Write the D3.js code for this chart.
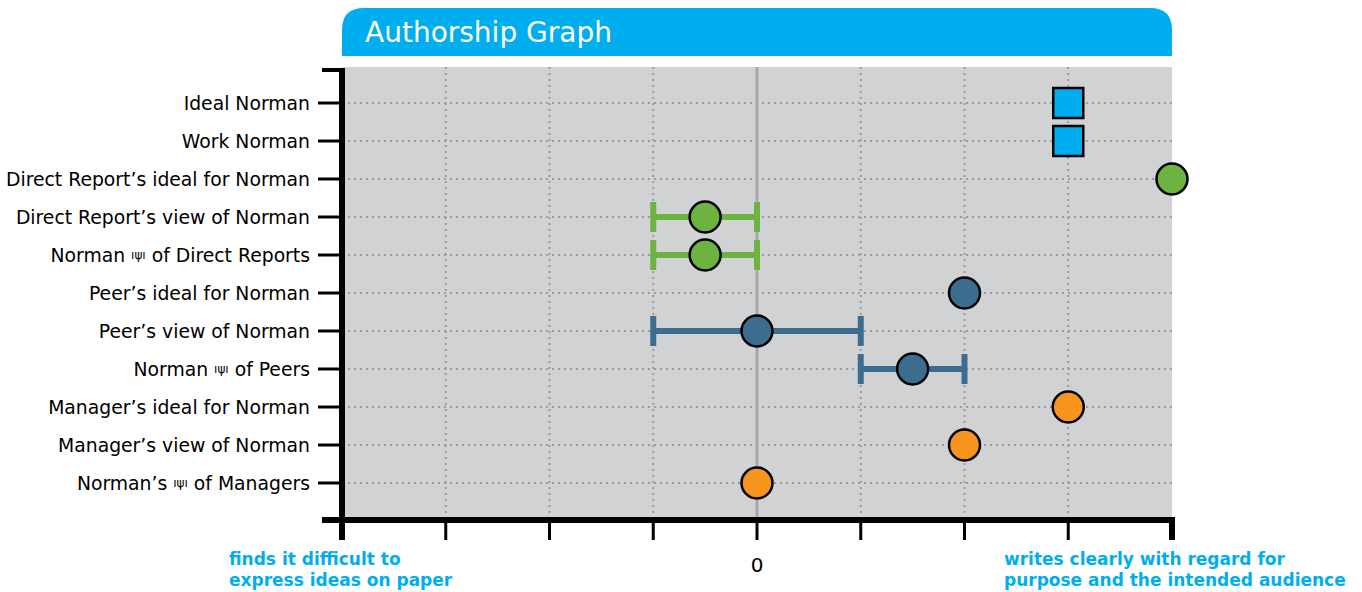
<!DOCTYPE html>
<html>
<head>
<meta charset="utf-8">
<script src="https://cdn.jsdelivr.net/npm/d3@7"></script>
<style>
  body { margin: 0; background: #fff; }
  text { font-family: "DejaVu Sans", Verdana, sans-serif; }
</style>
</head>
<body>
<div id="chart"></div>
<script>
// rows top to bottom
const labels = [
  ["Ideal Norman"],
  ["Work Norman"],
  ["Direct Report\u2019s ideal for Norman"],
  ["Direct Report\u2019s view of Norman"],
  ["Norman ", "\u0131\u03c8\u0131", " of Direct Reports"],
  ["Peer\u2019s ideal for Norman"],
  ["Peer\u2019s view of Norman"],
  ["Norman ", "\u0131\u03c8\u0131", " of Peers"],
  ["Manager\u2019s ideal for Norman"],
  ["Manager\u2019s view of Norman"],
  ["Norman\u2019s ", "\u0131\u03c8\u0131", " of Managers"]
];
const values = [3, 3, 4, -0.5, -0.5, 2, 0, 1.5, 3, 2, 0];
const lows   = [null, null, null, -1, -1, null, -1, 1, null, null, null];
const highs  = [null, null, null, 0, 0, null, 1, 2, null, null, null];
const groups = ["self", "self", "direct", "direct", "direct", "peer", "peer", "peer", "manager", "manager", "manager"];
const xTicks = [-4, -3, -2, -1, 0, 1, 2, 3, 4];

const colors = { self: "#00aeef", direct: "#6cb33f", peer: "#3c6d8f", manager: "#f7941d" };

const W = 1362, H = 592;
const svg = d3.select("#chart").append("svg").attr("width", W).attr("height", H);

const x = d3.scaleLinear().domain([-4, 4]).range([342, 1172]);
const y = d3.scalePoint().domain(d3.range(labels.length)).range([103, 483]);

// title bar
const tb = { x0: 342, x1: 1172, y0: 8, y1: 56, r: 22 };
svg.append("path")
  .attr("d", `M${tb.x0},${tb.y1} L${tb.x0},${tb.y0 + tb.r} Q${tb.x0},${tb.y0} ${tb.x0 + tb.r},${tb.y0}
              L${tb.x1 - tb.r},${tb.y0} Q${tb.x1},${tb.y0} ${tb.x1},${tb.y0 + tb.r} L${tb.x1},${tb.y1} Z`)
  .attr("fill", "#00aeef");
svg.append("text").attr("x", 365).attr("y", 42)
  .attr("fill", "#fff").style("font-size", "28px").text("Authorship Graph");

// plot background
svg.append("rect").attr("x", 342).attr("y", 67).attr("width", 830).attr("height", 453).attr("fill", "#d1d2d4");

// grid
svg.append("g").selectAll("line").data(xTicks.filter(d => d !== 0 && d !== -4 && d !== 4)).join("line")
  .attr("x1", d => x(d)).attr("x2", d => x(d)).attr("y1", 67).attr("y2", 520)
  .attr("stroke", "#9a9b9d").attr("stroke-width", 2).attr("stroke-dasharray", "2,4");
svg.append("g").selectAll("line").data(y.domain()).join("line")
  .attr("x1", 342).attr("x2", 1172).attr("y1", d => y(d)).attr("y2", d => y(d))
  .attr("stroke", "#9a9b9d").attr("stroke-width", 2).attr("stroke-dasharray", "2,4");
svg.append("line").attr("x1", x(0)).attr("x2", x(0)).attr("y1", 67).attr("y2", 520)
  .attr("stroke", "#a7a8aa").attr("stroke-width", 3);

// error bars
const eb = svg.append("g");
values.forEach((v, i) => {
  if (lows[i] === null) return;
  const c = colors[groups[i]];
  eb.append("line").attr("x1", x(lows[i])).attr("x2", x(highs[i])).attr("y1", y(i)).attr("y2", y(i))
    .attr("stroke", c).attr("stroke-width", 6);
  [lows[i], highs[i]].forEach(e => {
    eb.append("line").attr("x1", x(e)).attr("x2", x(e)).attr("y1", y(i) - 15).attr("y2", y(i) + 15)
      .attr("stroke", c).attr("stroke-width", 6);
  });
});

// marks
const marks = svg.append("g");
values.forEach((v, i) => {
  const c = colors[groups[i]];
  if (groups[i] === "self") {
    marks.append("rect").attr("x", x(v) - 15).attr("y", y(i) - 15).attr("width", 30).attr("height", 30)
      .attr("fill", c).attr("stroke", "#000").attr("stroke-width", 2.5);
  } else {
    marks.append("circle").attr("cx", x(v)).attr("cy", y(i)).attr("r", 15.5)
      .attr("fill", c).attr("stroke", "#000").attr("stroke-width", 2.5);
  }
});

// left axis
svg.append("line").attr("x1", 342).attr("x2", 342).attr("y1", 68).attr("y2", 540)
  .attr("stroke", "#000").attr("stroke-width", 6);
svg.append("line").attr("x1", 322).attr("x2", 345).attr("y1", 70).attr("y2", 70)
  .attr("stroke", "#000").attr("stroke-width", 4);
svg.append("g").selectAll("line").data(y.domain()).join("line")
  .attr("x1", 318).attr("x2", 342).attr("y1", d => y(d)).attr("y2", d => y(d))
  .attr("stroke", "#000").attr("stroke-width", 3);

// row labels
const lab = svg.append("g").selectAll("text").data(labels).join("text")
  .attr("x", 310).attr("y", (d, i) => y(i)).attr("dy", "0.35em")
  .attr("text-anchor", "end").attr("fill", "#000").style("font-size", "18.8px");
lab.each(function(parts) {
  const t = d3.select(this);
  parts.forEach((p, k) => {
    const s = t.append("tspan").text(p);
    if (k === 1) s.style("font-size", "12px").attr("dy", "-0.25em");
    if (k === 2) s.attr("dy", "0.16em");
  });
});

// bottom axis
svg.append("line").attr("x1", 322).attr("x2", 1175).attr("y1", 520).attr("y2", 520)
  .attr("stroke", "#000").attr("stroke-width", 6);
svg.append("g").selectAll("line").data(xTicks).join("line")
  .attr("x1", d => x(d)).attr("x2", d => x(d)).attr("y1", 520).attr("y2", 540)
  .attr("stroke", "#000").attr("stroke-width", d => (d === -4 || d === 4) ? 6 : 3);

svg.append("text").attr("x", x(0)).attr("y", 572).attr("text-anchor", "middle")
  .style("font-size", "20px").text("0");

// end labels
const endL = ["finds it difficult to", "express ideas on paper"];
const endR = ["writes clearly with regard for", "purpose and the intended audience"];
[[endL, 229], [endR, 1004]].forEach(([lines, lx]) => {
  svg.append("g").selectAll("text").data(lines).join("text")
    .attr("x", lx).attr("y", (d, i) => 565 + i * 21)
    .attr("fill", "#00aeef").style("font-size", "17px").style("font-weight", "bold").text(d => d);
});
</script>
</body>
</html>
